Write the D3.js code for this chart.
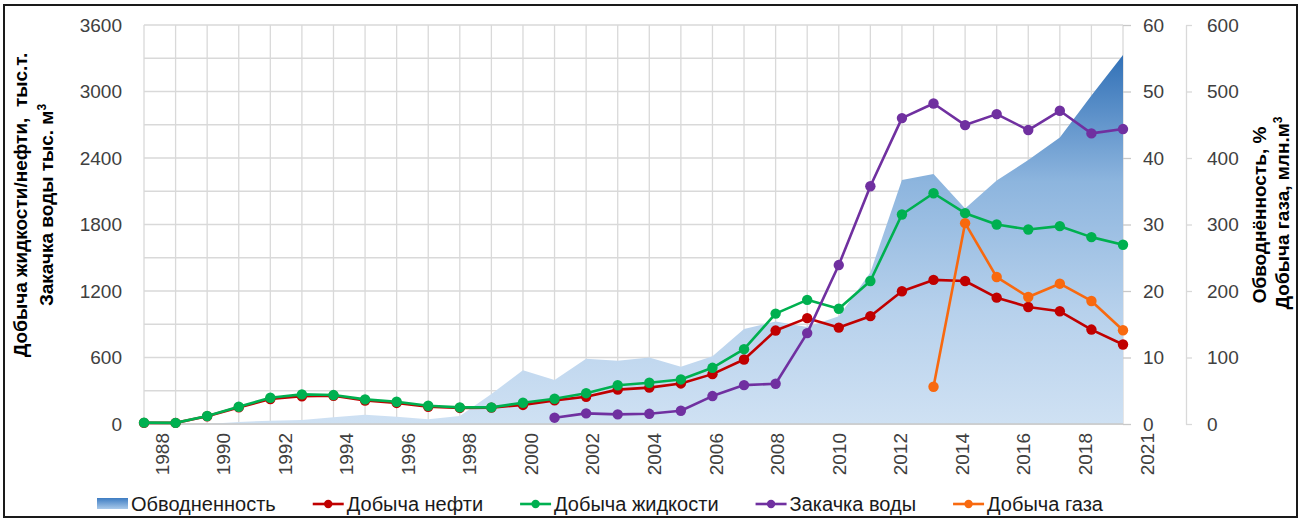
<!DOCTYPE html>
<html>
<head>
<meta charset="utf-8">
<script src="https://cdn.jsdelivr.net/npm/d3@7/dist/d3.min.js"></script>
<style>
  html, body { margin: 0; padding: 0; background: #fff; }
  svg { display: block; font-family: "Liberation Sans", Arial, sans-serif; }
  .tick text { fill: #404040; }
</style>
</head>
<body>
<svg id="chart" width="1303" height="522"></svg>
<script>
// Years of production history (one point per year)
const years = [1988, 1989, 1990, 1991, 1992, 1993, 1994, 1995, 1996, 1997, 1998,
  1999, 2000, 2001, 2002, 2003, 2004, 2005, 2006, 2007, 2008, 2009, 2010, 2011,
  2012, 2013, 2014, 2015, 2016, 2017, 2018, 2019];

// Labels printed under the year axis
const yearLabels = ["1988", "1990", "1992", "1994", "1996", "1998", "2000", "2002",
  "2004", "2006", "2008", "2010", "2012", "2014", "2016", "2018", "2021"];

// Water cut, %
const waterCut = [0, 0, 0, 0.3, 0.5, 0.6, 1.0, 1.4, 1.1, 0.7, 1.2, 4.5, 8.1, 6.6,
  9.8, 9.5, 10.0, 8.6, 10.2, 14.3, 15.4, 14.6, 16.2, 22.8, 36.7, 37.6, 32.4, 36.6,
  39.7, 43.1, 49.4, 55.5];

// Oil production, thousand t
const oil = [10, 10, 70, 150, 225, 250, 255, 212, 190, 155, 145, 148, 172, 213,
  246, 310, 328, 366, 450, 582, 843, 955, 870, 973, 1198, 1300, 1290, 1140, 1056,
  1017, 852, 717];

// Liquid production, thousand t
const liquid = [12, 10, 72, 156, 237, 267, 261, 222, 201, 165, 150, 150, 192, 228,
  278, 350, 372, 402, 507, 675, 996, 1120, 1040, 1290, 1890, 2082, 1902, 1800,
  1755, 1785, 1686, 1617];

// Water injection, thousand m3
const injection = [null, null, null, null, null, null, null, null, null, null,
  null, null, null, 57, 96, 87, 92, 120, 252, 351, 363, 820, 1434, 2145, 2760,
  2892, 2697, 2796, 2652, 2826, 2622, 2661];

// Gas production, million m3
const gas = [null, null, null, null, null, null, null, null, null, null, null,
  null, null, null, null, null, null, null, null, null, null, null, null, null,
  null, 56, 302, 221, 191, 211, 185, 141];

const leftTicks = [0, 600, 1200, 1800, 2400, 3000, 3600];
const pctTicks = [0, 10, 20, 30, 40, 50, 60];
const gasTicks = [0, 100, 200, 300, 400, 500, 600];

const svg = d3.select("#chart");
const plot = { left: 144, right: 1123, top: 25, bottom: 424 };

const x = d3.scalePoint().domain(years).range([plot.left, plot.right]);
const xLab = d3.scalePoint().domain(yearLabels).range([162, 1147]);
const yL = d3.scaleLinear().domain([0, 3600]).range([plot.bottom, plot.top]);
const yPct = d3.scaleLinear().domain([0, 60]).range([plot.bottom, plot.top]);
const yGas = d3.scaleLinear().domain([0, 600]).range([plot.bottom, plot.top]);
const plain = d3.format("d");

// Outer frame
svg.append("rect").attr("x", 4).attr("y", 5).attr("width", 1293).attr("height", 512)
  .attr("fill", "#fff").attr("stroke", "#1a1a1a").attr("stroke-width", 2);

// Gradient for the water-cut area
const defs = svg.append("defs");
const grad = defs.append("linearGradient").attr("id", "cutFill")
  .attr("gradientUnits", "userSpaceOnUse")
  .attr("x1", 0).attr("x2", 0).attr("y1", yPct(56)).attr("y2", plot.bottom);
[[0, "#2f6fb6"], [0.35, "#8db5de"], [0.7, "#b7d1ec"], [1, "#cfe1f3"]].forEach(([o, c]) =>
  grad.append("stop").attr("offset", o).attr("stop-color", c));
const legGrad = defs.append("linearGradient").attr("id", "legFill")
  .attr("x1", 0).attr("x2", 0).attr("y1", 0).attr("y2", 1);
[[0, "#3d7cc2"], [1, "#a9c9ea"]].forEach(([o, c]) =>
  legGrad.append("stop").attr("offset", o).attr("stop-color", c));

// Grid
const grid = svg.append("g").attr("stroke", "#d9d9d9").attr("stroke-width", 1.3);
grid.selectAll("line.h").data(d3.range(0, 3601, 300)).join("line")
  .attr("x1", plot.left).attr("x2", plot.right)
  .attr("y1", d => yL(d)).attr("y2", d => yL(d));
grid.selectAll("line.v").data(years).join("line")
  .attr("x1", d => x(d)).attr("x2", d => x(d))
  .attr("y1", plot.top).attr("y2", plot.bottom);

// Water cut area
svg.append("path").datum(years.map((y, i) => ({ y, v: waterCut[i] })))
  .attr("fill", "url(#cutFill)")
  .attr("d", d3.area().x(d => x(d.y)).y0(plot.bottom).y1(d => yPct(d.v)));

// Bottom axis line
svg.append("line").attr("x1", plot.left).attr("x2", plot.right)
  .attr("y1", plot.bottom).attr("y2", plot.bottom)
  .attr("stroke", "#c8c8c8").attr("stroke-width", 1.3);

// Line series
const series = [
  { name: "Добыча нефти", values: oil, color: "#c00000", scale: yL },
  { name: "Добыча жидкости", values: liquid, color: "#00b050", scale: yL },
  { name: "Закачка воды", values: injection, color: "#7030a0", scale: yL },
  { name: "Добыча газа", values: gas, color: "#f8690f", scale: yGas }
];
series.forEach(s => {
  const pts = years.map((y, i) => ({ y, v: s.values[i] })).filter(d => d.v != null);
  const g = svg.append("g");
  g.append("path").datum(pts).attr("fill", "none").attr("stroke", s.color)
    .attr("stroke-width", 2.6).attr("stroke-linejoin", "round")
    .attr("d", d3.line().x(d => x(d.y)).y(d => s.scale(d.v)));
  g.selectAll("circle").data(pts).join("circle")
    .attr("cx", d => x(d.y)).attr("cy", d => s.scale(d.v)).attr("r", 5.2)
    .attr("fill", s.color);
});

// Left axis
const axL = svg.append("g").attr("transform", `translate(${plot.left},0)`)
  .call(d3.axisLeft(yL).tickValues(leftTicks).tickFormat(plain).tickSize(0).tickPadding(22));
axL.select(".domain").remove();
axL.selectAll("text").style("font-size", "19px");

// Right axis: water cut
const axP = svg.append("g").attr("transform", `translate(${plot.right},0)`)
  .call(d3.axisRight(yPct).tickValues(pctTicks).tickFormat(plain).tickSize(8).tickPadding(12));
axP.select(".domain").remove();
axP.selectAll("line").attr("stroke", "#c8c8c8").attr("stroke-width", 1.3);
axP.selectAll("text").style("font-size", "19px");

// Right axis: gas
const axG = svg.append("g").attr("transform", "translate(1186,0)")
  .call(d3.axisRight(yGas).tickValues(gasTicks).tickFormat(plain).tickSize(6)
    .tickSizeOuter(0).tickPadding(15));
axG.select(".domain").attr("stroke", "#d9d9d9").attr("stroke-width", 1.3);
axG.selectAll("line").attr("stroke", "#d9d9d9").attr("stroke-width", 1.3);
axG.selectAll("text").style("font-size", "19px");

// Year labels, rotated
svg.append("g").selectAll("text").data(yearLabels).join("text")
  .attr("transform", d => `translate(${xLab(d)},433) rotate(-90)`)
  .attr("text-anchor", "end").attr("dominant-baseline", "central")
  .attr("fill", "#404040").style("font-size", "19px").text(d => d);

// Axis titles
function title(xPos, yPos, parts) {
  const t = svg.append("text").attr("transform", `translate(${xPos},${yPos}) rotate(-90)`)
    .attr("text-anchor", "middle").attr("fill", "#000")
    .style("font-size", "19px").style("font-weight", "bold")
    .style("white-space", "pre");
  parts.forEach(p => {
    const ts = t.append("tspan").text(p.t);
    if (p.sup) ts.attr("baseline-shift", "super").style("font-size", "12px");
  });
}
title(27, 205, [{ t: "Добыча жидкости/нефти,  тыс.т." }]);
title(53, 205, [{ t: "Закачка воды тыс. м" }, { t: "3", sup: true }]);
title(1266, 215, [{ t: "Обводнённость, %" }]);
title(1289, 213, [{ t: "Добыча газа, млн.м" }, { t: "3", sup: true }]);

// Legend
const legend = svg.append("g").attr("transform", "translate(0,504)");
let lx = 97;
const legItems = [{ name: "Обводненность", area: true }].concat(series);
legItems.forEach(item => {
  const g = legend.append("g").attr("transform", `translate(${lx},0)`);
  if (item.area) {
    g.append("rect").attr("x", 0).attr("y", -6).attr("width", 31).attr("height", 11)
      .attr("fill", "url(#legFill)");
  } else {
    g.append("line").attr("x1", 0).attr("x2", 31).attr("y1", 0).attr("y2", 0)
      .attr("stroke", item.color).attr("stroke-width", 2.6);
    g.append("circle").attr("cx", 15.5).attr("cy", 0).attr("r", 4.2).attr("fill", item.color);
  }
  const t = g.append("text").attr("x", 34).attr("y", 0).attr("dominant-baseline", "central")
    .attr("fill", "#1a1a1a").style("font-size", "20px").text(item.name);
  lx += 34 + t.node().getComputedTextLength() + 37;
});
</script>
</body>
</html>
